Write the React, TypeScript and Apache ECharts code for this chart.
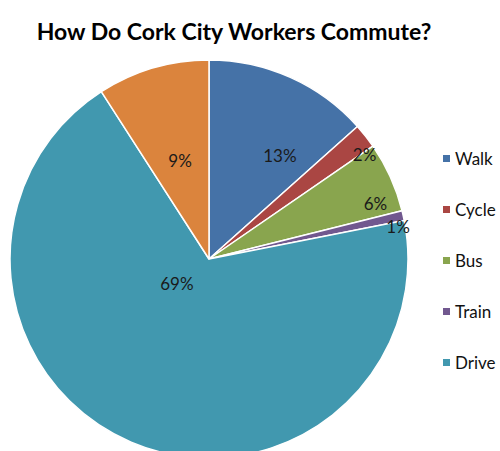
import React, { useEffect, useRef } from "react";
import * as echarts from "echarts";

const titleText = "How Do Cork City Workers Commute?";
const categories = ["Walk", "Cycle", "Bus", "Train", "Drive", "Other"];
const shares = [13.4, 2.0, 5.7, 0.8, 69.0, 9.1];
const legendNames = ["Walk", "Cycle", "Bus", "Train", "Drive"];
const colors = ["#4572A7", "#AA4643", "#89A54E", "#71588F", "#4198AF", "#DB843D"];
const labelShift = [
  [29, -10],
  [75, -41],
  [73, -13],
  [89, -10],
  [8, -70],
  [0, 0],
];

export default function App() {
  const ref = useRef<HTMLDivElement>(null);
  useEffect(() => {
    if (!ref.current) return;
    const chart = echarts.init(ref.current, null, { renderer: "svg" });
    chart.setOption({
      animation: false,
      title: {
        text: titleText,
        left: 229,
        top: 14,
        textAlign: "center",
        textStyle: {
          fontFamily: "Lato",
          fontWeight: "bold",
          fontSize: 23,
          color: "#000",
        },
      },
      legend: {
        data: legendNames,
        orient: "vertical",
        left: 436,
        top: 145,
        itemWidth: 9,
        itemHeight: 9,
        itemGap: 34,
        icon: "rect",
        textStyle: { fontFamily: "Lato", fontSize: 17, color: "#111", padding: [0, 0, 0, -1] },
      },
      series: [
        {
          type: "pie",
          center: [209, 259],
          radius: 199,
          startAngle: 90,
          clockwise: true,
          data: categories.map((c, i) => ({
            name: c,
            value: shares[i],
            itemStyle: { color: colors[i] },
          })),
          itemStyle: { borderColor: "#fff", borderWidth: 1.5 },
          label: {
            show: true,
            position: "inside",
            formatter: (p: any) => Math.round(p.value) + "%",
            fontFamily: "Lato",
            fontSize: 17,
            color: "#1a1a1a",
          },
          labelLayout: (p: any) => ({
            dx: labelShift[p.dataIndex][0],
            dy: labelShift[p.dataIndex][1],
          }),
          emphasis: { disabled: true },
        },
      ],
    });
    return () => chart.dispose();
  }, []);
  return (
    <div
      ref={ref}
      style={{ position: "fixed", left: 0, top: 0, width: 500, height: 451, background: "#fff" }}
    />
  );
}
